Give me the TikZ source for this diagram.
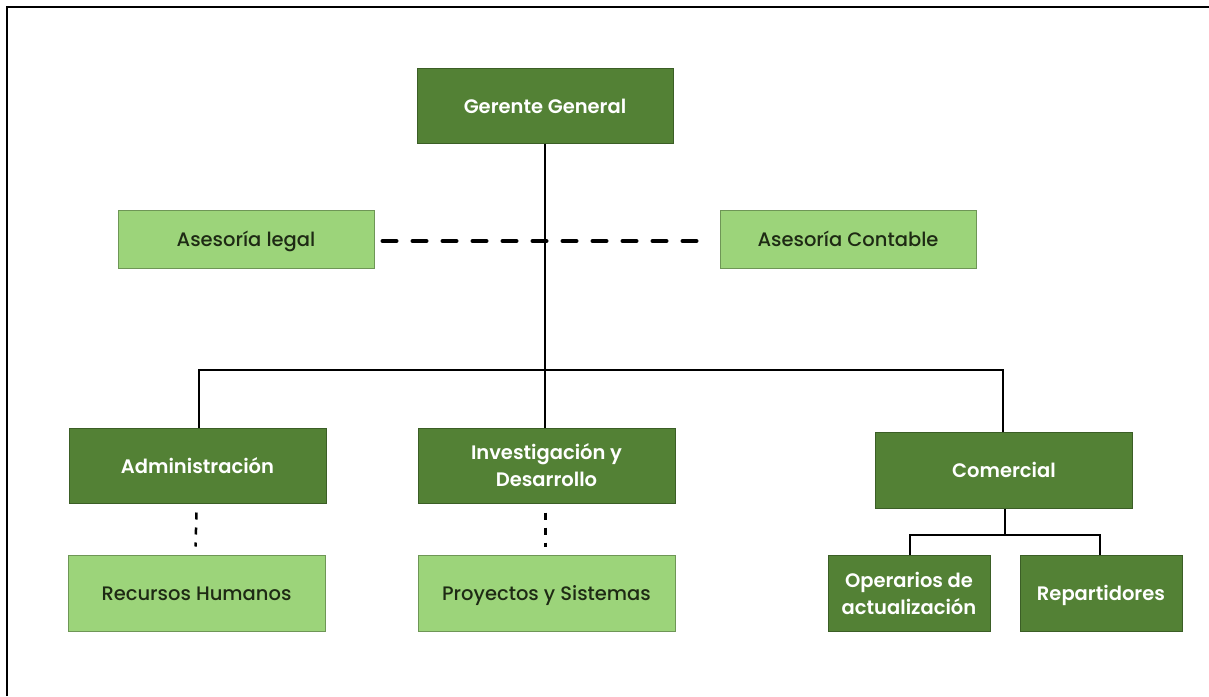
\documentclass[tikz,border=0pt]{standalone}
\usepackage{fontspec}
\usetikzlibrary{calc}
\setmainfont{Poppins}
\newfontfamily\medfont{Poppins}[UprightFont={* Medium}]
\newfontfamily\semifont{Poppins}[UprightFont={* SemiBold}]
\newcommand\lnstrut{\rule[-5.6pt]{0pt}{27pt}}
\definecolor{darkg}{HTML}{538135}
\definecolor{darkgb}{HTML}{3B5E26}
\definecolor{lightg}{HTML}{9CD47A}
\definecolor{lightgb}{HTML}{6E9656}
\definecolor{txt}{HTML}{1E2A14}
\tikzset{
  dbox/.style={draw=darkgb, line width=1pt, fill=darkg, text=white, align=center,
    font=\semifont\fontsize{19.5}{27}\selectfont, inner sep=0pt},
  lbox/.style={draw=lightgb, line width=1pt, fill=lightg, text=txt, align=center,
    font=\medfont\fontsize{19.5}{27}\selectfont, inner sep=0pt},
  conn/.style={line width=2.6pt, black},
  dashconn/.style={line width=4pt, black, dash pattern=on 14pt off 16pt, line cap=round},
  dotconn/.style={line width=2.5pt, black, dash pattern=on 7pt off 8pt},
}
\begin{document}
\begin{tikzpicture}[x=1pt,y=-1pt]
\useasboundingbox (0,0) rectangle (1209,696);
% frame
\draw[line width=2.4pt, black] (7,696) -- (7,7) -- (1209,7);
% nodes
\node[dbox, minimum width=256pt, minimum height=75pt] (gg) at (545,105.5) {\lnstrut Gerente General};
\node[lbox, minimum width=256pt, minimum height=58pt] (al) at (246,239) {\lnstrut Asesoría legal};
\node[lbox, minimum width=256pt, minimum height=58pt] (ac) at (848,239) {\lnstrut Asesoría Contable};
\node[dbox, minimum width=257pt, minimum height=75pt] (adm) at (197.5,465.5) {\lnstrut Administración};
\node[dbox, minimum width=257pt, minimum height=75pt] (id) at (546.5,465.5) {\lnstrut Investigación y\\\lnstrut Desarrollo};
\node[dbox, minimum width=257pt, minimum height=76pt] (com) at (1004,470) {\lnstrut Comercial};
\node[lbox, minimum width=257pt, minimum height=76pt] (rh) at (196.5,593) {\lnstrut Recursos Humanos};
\node[lbox, minimum width=257pt, minimum height=76pt] (ps) at (546.5,593) {\lnstrut Proyectos y Sistemas};
\node[dbox, minimum width=162pt, minimum height=76pt] (op) at (909,593) {\lnstrut Operarios de\\\lnstrut actualización};
\node[dbox, minimum width=162pt, minimum height=76pt] (rep) at (1101,593) {\lnstrut Repartidores};
% coordinates
\coordinate (bar) at (545,370);
\coordinate (barl) at (199,370);
\coordinate (barr) at (1003,370);
\coordinate (cbar) at (1005,535);
\coordinate (cbarl) at (910,535);
\coordinate (cbarr) at (1100,535);
% connectors
\draw[dashconn] ($(al.east)+(8,2)$) -- ($(ac.west)+(-8,2)$);
\draw[conn] (gg.south) -- (bar);
\draw[conn] (barl |- adm.north) -- (barl) -- (barr) -- (barr |- com.north);
\draw[conn] (bar) -- (bar |- id.north);
\draw[dotconn] ($(adm.south)+(-1,9)$) -- ($(rh.north)+(-1,-8)$);
\draw[dotconn] ($(id.south)+(-1,9)$) -- ($(ps.north)+(-1,-8)$);
\draw[conn] (cbar |- com.south) -- (cbar);
\draw[conn] (cbarl |- op.north) -- (cbarl) -- (cbarr) -- (cbarr |- rep.north);
\end{tikzpicture}
\end{document}
